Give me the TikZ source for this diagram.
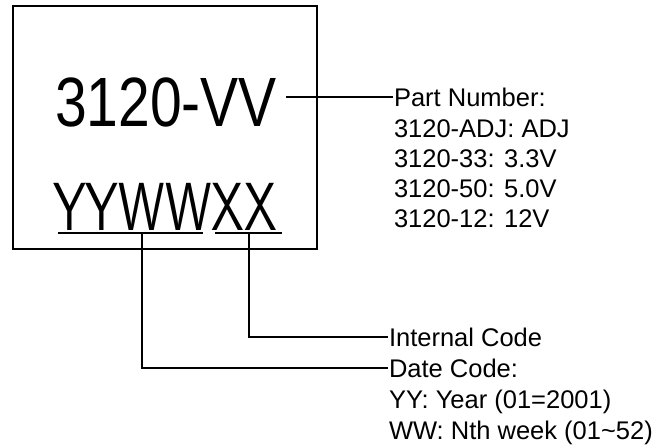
\documentclass[tikz,border=0pt]{standalone}
\usepackage{fontspec}
\setmainfont{Liberation Sans}
\usepackage{tikz}

\begin{document}
\begin{tikzpicture}[x=0.5pt,y=-0.5pt,line width=1pt,
  lbl/.style={inner sep=0pt,text depth=0pt,anchor=base west,font=\fontsize{12.75}{15}\selectfont}]
\useasboundingbox (0,0) rectangle (672,445);
% Caixa do componente
\draw (13,6) rectangle (317,249);
\node[inner sep=0pt,anchor=base] (code) at (166,126) {\scalebox{0.817}[1]{\fontsize{34.9}{35}\selectfont 3120-VV}};
\node[inner sep=0pt,anchor=base] (mark) at (165,230) {\scalebox{0.77}[1]{\fontsize{34}{34}\sffamily\selectfont YYWWXX}};

% Numero da peca
\node[lbl] (part) at (393,106) {Part Number:};
\foreach \t [count=\i] in {3120-ADJ: ADJ, 3120-33: 3.3V, 3120-50: 5.0V, 3120-12: 12V}
    \node[lbl] (v\i) at (393,{137+30*(\i-1)}) {\t};
\draw ([xshift=4pt]code.east |- part.west) -- (part.west);

% Codigos de data e interno
\node[lbl] (intern) at (388,346) {Internal Code};
\node[lbl] (date) at (388,377) {Date Code:};
\node[lbl] (yy) at (388,408) {YY: Year (01=2001)};
\node[lbl] (ww) at (388,439) {WW: Nth week (01\textasciitilde52)};
\coordinate (yw1) at (58,233);
\coordinate (yw2) at (203,233);
\coordinate (ywm) at (142,233);
\coordinate (xx1) at (215,233);
\coordinate (xx2) at (282,233);
\coordinate (xxm) at (249,233);
\draw (yw1) -- (yw2);
\draw (xx1) -- (xx2);
\draw (ywm) |- (date.west);
\draw (xxm) |- (intern.west);
\end{tikzpicture}
\end{document}
